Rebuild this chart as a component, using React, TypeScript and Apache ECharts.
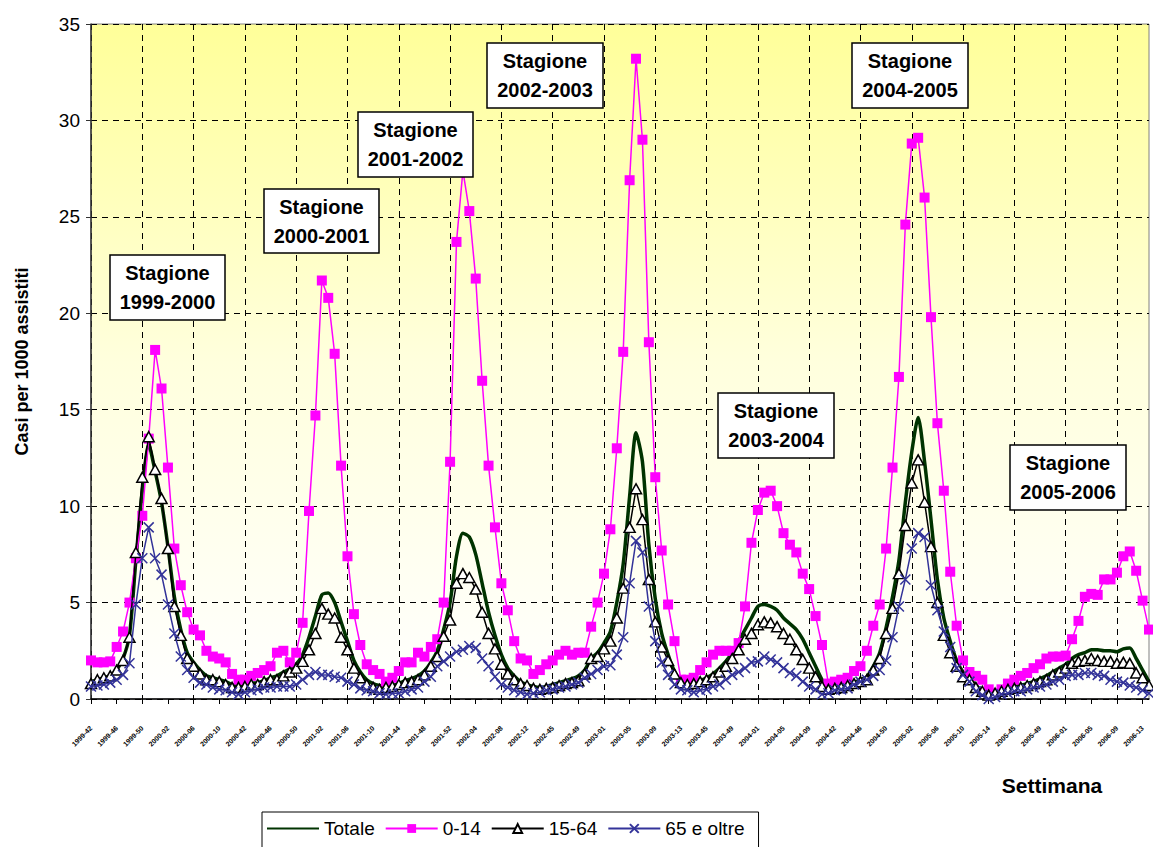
import React, { useEffect, useRef } from "react";
import * as echarts from "echarts";

const FONT = 'Arial, "Liberation Sans", sans-serif';

// Seasons (start year, number of weekly points shown)
const seasonYears = [1999, 2000, 2001, 2002, 2003, 2004, 2005];
const seasonLengths = [24, 22, 23, 24, 23, 25, 25];
const firstWeek = 42;

const weeks: string[] = [];
seasonYears.forEach((yr, k) => {
  for (let j = 0; j < seasonLengths[k]; j++) {
    let w = firstWeek + j;
    let y = yr;
    if (w > 52) {
      w -= 52;
      y += 1;
    }
    weeks.push(`${y}-${w < 10 ? "0" + w : w}`);
  }
});

const totale = [
  0.9, 1.0, 1.1, 1.2, 1.5, 2.1, 3.3, 7.2, 10.8, 13.2,
  11.8, 10.2, 7.9, 5.3, 3.6, 2.4, 1.9, 1.5, 1.2, 1.1,
  1.0, 0.9, 0.75, 0.65, 0.7, 0.8, 0.85, 0.95, 1.1, 1.2,
  1.4, 1.55, 1.8, 2.3, 3.2, 4.3, 5.4, 5.5, 5.0, 4.0,
  3.0, 2.0, 1.4, 1.0, 0.8, 0.7, 0.65, 0.7, 0.8, 0.95,
  1.05, 1.2, 1.45, 1.9, 2.5, 3.6, 5.0, 7.4, 8.6, 8.4,
  7.5, 6.0, 4.5, 3.3, 2.3, 1.6, 1.2, 0.9, 0.75, 0.65,
  0.6, 0.65, 0.75, 0.85, 0.95, 1.05, 1.2, 1.5, 2.1, 2.4,
  2.9, 3.5, 5.0, 7.0, 10.5, 13.8, 12.3, 8.0, 5.2, 3.4,
  2.3, 1.4, 0.9, 0.8, 0.85, 0.95, 1.1, 1.3, 1.6, 1.95,
  2.4, 3.0, 3.6, 4.2, 4.8, 4.9, 4.8, 4.6, 4.2, 3.9,
  3.6, 3.1, 2.4, 1.7, 1.0, 0.55, 0.6, 0.65, 0.75, 0.85,
  1.0, 1.15, 1.7, 2.4, 3.7, 5.3, 7.2, 10.2, 12.8, 14.6,
  12.3, 9.3, 6.2, 4.2, 3.0, 2.0, 1.4, 1.1, 0.7, 0.45,
  0.3, 0.35, 0.45, 0.55, 0.65, 0.7, 0.8, 0.9, 1.05, 1.2,
  1.4, 1.6, 1.8, 2.1, 2.3, 2.4, 2.55, 2.55, 2.5, 2.5,
  2.45, 2.6, 2.65, 2.1, 1.5, 0.9,
];

const age0_14 = [
  2.0, 1.9, 1.9, 1.95, 2.7, 3.5, 5.0, 7.3, 9.5, 13.5,
  18.1, 16.1, 12.0, 7.8, 5.9, 4.5, 3.6, 3.3, 2.5, 2.2,
  2.1, 1.9, 1.3, 1.0, 1.0, 1.2, 1.35, 1.5, 1.7, 2.4,
  2.5, 1.9, 2.4, 3.95, 9.75, 14.7, 21.7, 20.8, 17.9, 12.1,
  7.4, 4.4, 2.8, 1.8, 1.5, 1.3, 0.9, 1.1, 1.45, 1.9,
  1.9, 2.4, 2.2, 2.7, 3.1, 5.0, 12.3, 23.7, 27.4, 25.3,
  21.8, 16.5, 12.1, 8.9, 6.0, 4.6, 3.0, 2.1, 2.0, 1.3,
  1.5, 1.8, 2.0, 2.3, 2.5, 2.3, 2.4, 2.4, 3.75, 5.0,
  6.5, 8.8, 13.0, 18.0, 26.9, 33.2, 29.0, 18.5, 11.5, 7.7,
  4.9, 3.0, 1.0, 1.0, 1.1, 1.5, 1.9, 2.3, 2.5, 2.5,
  2.5, 2.9, 4.8, 8.1, 9.8, 10.7, 10.8, 10.0, 8.6, 8.0,
  7.6, 6.5, 5.7, 4.3, 2.8, 0.8, 0.9, 1.0, 1.1, 1.45,
  1.7, 2.5, 3.8, 4.9, 7.8, 12.0, 16.7, 24.6, 28.8, 29.1,
  26.0, 19.8, 14.3, 10.8, 6.6, 3.8, 2.0, 1.4, 1.2, 1.0,
  0.5, 0.3, 0.5, 0.8, 1.0, 1.2, 1.35, 1.6, 1.8, 2.1,
  2.2, 2.2, 2.25, 3.1, 4.05, 5.3, 5.45, 5.4, 6.2, 6.2,
  6.55, 7.4, 7.65, 6.65, 5.1, 3.6,
];

const age15_64 = [
  0.8, 1.0, 1.1, 1.2, 1.5, 2.0, 3.2, 7.6, 11.5, 13.6,
  11.9, 10.4, 7.8, 4.8, 3.3, 2.1, 1.7, 1.3, 1.0, 1.0,
  0.9, 0.75, 0.6, 0.6, 0.65, 0.75, 0.75, 0.9, 1.0, 1.0,
  1.2, 1.4, 1.6, 1.95, 2.55, 3.4, 4.7, 4.4, 4.2, 3.2,
  2.55, 1.6, 1.1, 0.75, 0.6, 0.5, 0.6, 0.65, 0.75, 0.85,
  0.9, 1.0, 1.25, 1.7, 2.2, 3.25, 4.1, 6.0, 6.5, 6.3,
  5.7, 4.5, 3.4, 2.6, 1.8, 1.3, 1.0, 0.8, 0.7, 0.55,
  0.5, 0.55, 0.6, 0.7, 0.8, 0.85, 0.95, 1.3, 2.1, 2.2,
  2.6, 3.0, 4.2, 5.75, 8.9, 10.9, 9.3, 6.2, 4.0, 2.7,
  2.0, 1.3, 0.85, 0.75, 0.8, 0.9, 1.0, 1.15, 1.4, 1.7,
  2.1, 2.55, 3.1, 3.4, 3.85, 4.0, 3.95, 3.75, 3.4, 3.1,
  2.55, 2.05, 1.6, 1.15, 0.65, 0.5, 0.55, 0.6, 0.7, 0.8,
  0.9, 1.0, 1.5, 2.1, 3.4, 4.7, 6.5, 9.0, 11.2, 12.4,
  10.2, 7.9, 5.0, 3.3, 2.4, 1.7, 1.15, 1.0, 0.6, 0.4,
  0.2, 0.3, 0.4, 0.5, 0.55, 0.6, 0.7, 0.8, 0.9, 1.0,
  1.25, 1.4, 1.6, 1.85, 1.95, 2.0, 2.1, 2.0, 1.95, 1.95,
  1.85, 1.9, 1.85, 1.35, 1.1, 0.7,
];

const age65plus = [
  0.65, 0.7, 0.75, 0.85, 1.0, 1.25, 1.85, 4.9, 7.3, 8.9,
  7.3, 6.45, 4.9, 3.4, 2.2, 1.5, 1.1, 0.85, 0.75, 0.6,
  0.5, 0.45, 0.35, 0.25, 0.35, 0.45, 0.5, 0.6, 0.6, 0.65,
  0.65, 0.65, 0.75, 1.0, 1.25, 1.4, 1.25, 1.25, 1.15, 1.1,
  0.9, 0.75, 0.55, 0.45, 0.4, 0.3, 0.25, 0.3, 0.3, 0.4,
  0.5, 0.6, 0.9, 1.15, 1.7, 1.95, 2.2, 2.45, 2.55, 2.75,
  2.65, 2.1, 1.7, 1.15, 0.75, 0.6, 0.45, 0.35, 0.25, 0.3,
  0.35, 0.45, 0.5, 0.6, 0.65, 0.75, 0.85, 1.1, 1.3, 1.5,
  1.7, 1.75, 2.3, 3.2, 6.0, 8.2, 7.6, 4.8, 3.0, 1.9,
  1.25, 0.75, 0.5, 0.45, 0.35, 0.45, 0.5, 0.65, 0.75, 1.0,
  1.25, 1.4, 1.6, 1.9, 1.95, 2.2, 2.05, 1.9, 1.6, 1.35,
  1.2, 0.9, 0.65, 0.5, 0.25, 0.3, 0.45, 0.5, 0.55, 0.75,
  0.9, 1.0, 1.2, 1.5, 2.0, 3.2, 4.8, 6.2, 7.8, 8.6,
  8.4, 5.9, 4.6, 3.5, 2.7, 1.6, 1.25, 0.9, 0.4, 0.2,
  0.0, 0.1, 0.25, 0.3, 0.4, 0.4, 0.5, 0.6, 0.65, 0.75,
  0.9, 1.0, 1.2, 1.25, 1.25, 1.35, 1.35, 1.25, 1.2, 1.0,
  0.9, 0.85, 0.7, 0.6, 0.45, 0.3,
];

const seriesNames = ["Totale", "0-14", "15-64", "65 e oltre"];
const yTicks = { min: 0, max: 35, step: 5 };

const annotations = [
  { text: "Stagione\n1999-2000", x: 110, y: 255, w: 115, h: 65 },
  { text: "Stagione\n2000-2001", x: 264, y: 189, w: 115, h: 64 },
  { text: "Stagione\n2001-2002", x: 358, y: 112, w: 115, h: 65 },
  { text: "Stagione\n2002-2003", x: 487, y: 43, w: 116, h: 65 },
  { text: "Stagione\n2003-2004", x: 718, y: 393, w: 116, h: 65 },
  { text: "Stagione\n2004-2005", x: 852, y: 43, w: 116, h: 65 },
  { text: "Stagione\n2005-2006", x: 1010, y: 445, w: 116, h: 65 },
];

export default function App() {
  const ref = useRef<HTMLDivElement>(null);

  useEffect(() => {
    if (!ref.current) return;
    const chart = echarts.init(ref.current, null, { renderer: "svg" });

    const graphic: any[] = annotations.map((a) => ({
      type: "group",
      children: [
        {
          type: "rect",
          shape: { x: a.x, y: a.y, width: a.w, height: a.h },
          style: { fill: "#ffffff", stroke: "#000000", lineWidth: 1.5 },
          z: 100,
        },
        {
          type: "text",
          x: a.x + a.w / 2,
          y: a.y + a.h / 2,
          z: 101,
          style: {
            text: a.text,
            font: `bold 20px ${FONT}`,
            fill: "#000",
            align: "center",
            verticalAlign: "middle",
            lineHeight: 29,
          },
        },
      ],
    }));
    graphic.push({
      type: "text",
      x: 1052,
      y: 785,
      style: {
        text: "Settimana",
        font: `bold 21px ${FONT}`,
        fill: "#000",
        align: "center",
        verticalAlign: "middle",
      },
    });

    const option: any = {
      animation: false,
      backgroundColor: "#ffffff",
      textStyle: { fontFamily: FONT },
      grid: {
        left: 91,
        top: 24,
        right: 4,
        bottom: 148,
        show: true,
        borderColor: "#808080",
        borderWidth: 1,
        backgroundColor: {
          type: "linear",
          x: 0,
          y: 0,
          x2: 0,
          y2: 1,
          colorStops: [
            { offset: 0, color: "#FFFF99" },
            { offset: 0.5, color: "#FFFFDD" },
            { offset: 1, color: "#FFFFFF" },
          ],
        },
      },
      legend: {
        left: 262,
        top: 812,
        orient: "horizontal",
        itemWidth: 52,
        itemHeight: 11,
        itemGap: 10,
        padding: [7, 14, 14, 4],
        borderColor: "#000",
        borderWidth: 1,
        backgroundColor: "#fff",
        textStyle: { fontSize: 19, color: "#000", fontFamily: FONT },
        data: [
          { name: seriesNames[0], itemStyle: { opacity: 0 } },
          seriesNames[1],
          seriesNames[2],
          seriesNames[3],
        ],
      },
      xAxis: {
        type: "category",
        data: weeks,
        boundaryGap: false,
        axisLine: { lineStyle: { color: "#000", width: 1.5 } },
        axisTick: { interval: 3, length: 5, lineStyle: { color: "#000" } },
        axisLabel: {
          interval: 3,
          rotate: 45,
          fontSize: 7,
          fontWeight: "bold",
          color: "#000",
          margin: 28,
        },
        splitLine: {
          show: true,
          interval: 7,
          lineStyle: { color: "#000", type: [6, 5], width: 1 },
        },
      },
      yAxis: {
        type: "value",
        min: yTicks.min,
        max: yTicks.max,
        interval: yTicks.step,
        name: "Casi per 1000 assistiti",
        nameLocation: "middle",
        nameGap: 60,
        nameTextStyle: { fontSize: 18, fontWeight: "bold", color: "#000" },
        axisLine: { show: true, lineStyle: { color: "#333", width: 1.5 } },
        axisTick: { show: true, length: 5, lineStyle: { color: "#333" } },
        axisLabel: { fontSize: 19, color: "#000", margin: 11 },
        splitLine: { lineStyle: { color: "#000", type: [6, 5], width: 1 } },
      },
      series: [
        {
          name: seriesNames[0],
          type: "line",
          data: totale,
          symbol: "none",
          smooth: 0.25,
          lineStyle: { color: "#003300", width: 3.5 },
          itemStyle: { color: "#003300" },
          z: 2,
        },
        {
          name: seriesNames[1],
          type: "line",
          data: age0_14,
          symbol: "rect",
          symbolSize: 10,
          showAllSymbol: true,
          lineStyle: { color: "#FF00FF", width: 1.5 },
          itemStyle: { color: "#FF00FF" },
          z: 3,
        },
        {
          name: seriesNames[2],
          type: "line",
          data: age15_64,
          symbol: "triangle",
          symbolSize: [11, 10],
          showAllSymbol: true,
          lineStyle: { color: "#000", width: 1.5 },
          itemStyle: { color: "#ffffff", borderColor: "#000", borderWidth: 1.5 },
          z: 4,
        },
        {
          name: seriesNames[3],
          type: "line",
          data: age65plus,
          symbol: "path://M0,0L10,10M10,0L0,10",
          symbolSize: 10,
          showAllSymbol: true,
          lineStyle: { color: "#333399", width: 1.5 },
          itemStyle: { color: "#333399", borderColor: "#333399", borderWidth: 1.5 },
          z: 5,
        },
      ],
      graphic,
    };

    chart.setOption(option);
    return () => chart.dispose();
  }, []);

  return (
    <div
      ref={ref}
      style={{ position: "fixed", left: 0, top: 0, width: 1153, height: 847 }}
    />
  );
}
